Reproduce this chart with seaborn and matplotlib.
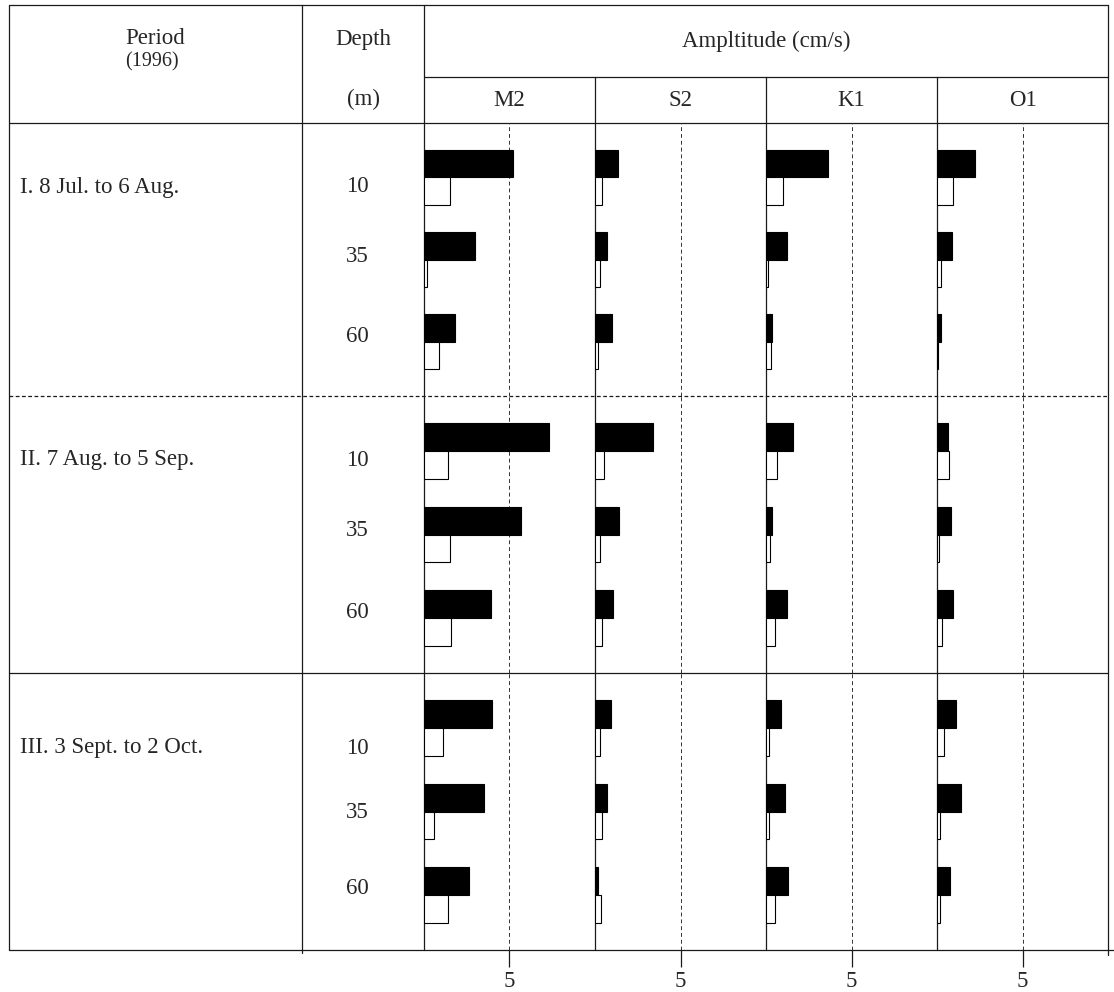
import numpy as np
import pandas as pd
import seaborn as sns
import matplotlib.pyplot as plt

# data (cm/s), black = major axis, white = minor axis
periods = ['I. 8 Jul. to 6 Aug.', 'II. 7 Aug. to 5 Sep.', 'III. 3 Sept. to 2 Oct.']
depths = ['10', '35', '60']
constituents = ['M2', 'S2', 'K1', 'O1']

m2_major = [[5.2, 3.0, 1.8], [7.3, 5.7, 3.9], [3.95, 3.5, 2.65]]
m2_minor = [[1.5, 0.2, 0.9], [1.4, 1.5, 1.6], [1.1, 0.6, 1.4]]
s2_major = [[1.35, 0.7, 1.0], [3.4, 1.4, 1.05], [0.95, 0.7, 0.2]]
s2_minor = [[0.4, 0.3, 0.2], [0.5, 0.3, 0.4], [0.3, 0.4, 0.35]]
k1_major = [[3.6, 1.2, 0.35], [1.6, 0.35, 1.2], [0.9, 1.1, 1.3]]
k1_minor = [[1.0, 0.1, 0.3], [0.65, 0.25, 0.55], [0.2, 0.2, 0.5]]
o1_major = [[2.2, 0.85, 0.25], [0.65, 0.8, 0.95], [1.1, 1.4, 0.75]]
o1_minor = [[0.95, 0.25, 0.05], [0.7, 0.1, 0.3], [0.4, 0.2, 0.2]]

majors = {'M2': m2_major, 'S2': s2_major, 'K1': k1_major, 'O1': o1_major}
minors = {'M2': m2_minor, 'S2': s2_minor, 'K1': k1_minor, 'O1': o1_minor}

rows = []
for c in constituents:
    for p in range(3):
        for d in range(3):
            rows.append([p, depths[d], c, 'major', majors[c][p][d]])
            rows.append([p, depths[d], c, 'minor', minors[c][p][d]])
df = pd.DataFrame(rows, columns=['period', 'depth', 'const', 'kind', 'amp'])

sns.set_theme(style='white')
plt.rcParams['font.family'] = ['Liberation Serif', 'DejaVu Serif']
FS = 16.5

W, H = 1114, 992
fig = plt.figure(figsize=(W / 100, H / 100), dpi=100)

# background axes in pixel coordinates for the table grid
bg = fig.add_axes([0, 0, 1, 1])
bg.set_xlim(0, W)
bg.set_ylim(H, 0)
bg.axis('off')

lc = '#1a1a1a'
def hline(y, x0, x1, **kw):
    bg.plot([x0, x1], [y, y], color=lc, lw=0.9, **kw)
def vline(x, y0, y1, **kw):
    bg.plot([x, x], [y0, y1], color=lc, lw=0.9, **kw)

col_x = [424, 595, 766, 937]
col_w = 171
row_top = [123, 396, 673]
row_bot = [396, 673, 950]

hline(5, 9, 1108)
hline(77, 424, 1108)
hline(123, 9, 1108)
hline(396, 9, 1108, ls=(0, (3, 2)))
hline(673, 9, 1108)
hline(950, 9, 302)
hline(950, 302, 1114)
vline(9, 5, 950)
vline(302, 5, 953)
vline(424, 5, 950)
for x in col_x[1:]:
    vline(x, 77, 950)
vline(1108, 5, 955)

# header texts
bg.text(155, 39, 'Period', ha='center', va='center', fontsize=FS)
bg.text(152, 62, '(1996)', ha='center', va='center', fontsize=FS - 2)
bg.text(363, 39, 'Depth', ha='center', va='center', fontsize=FS)
bg.text(363, 99, '(m)', ha='center', va='center', fontsize=FS)
bg.text(766, 41, 'Ampltitude (cm/s)', ha='center', va='center', fontsize=FS)
for x, c in zip(col_x, constituents):
    bg.text(x + col_w / 2, 100, c, ha='center', va='center', fontsize=FS)

period_y = [187, 460, 748]
depth_y = [[187, 257, 337], [460, 530, 612], [748, 813, 888]]
for p in range(3):
    bg.text(20, period_y[p], periods[p], ha='left', va='center', fontsize=FS)
    for d in range(3):
        bg.text(357, depth_y[p][d], depths[d], ha='center', va='center', fontsize=FS)

# bar panels
for p in range(3):
    for j, c in enumerate(constituents):
        x0 = col_x[j]
        ax = fig.add_axes([x0 / W, 1 - row_bot[p] / H, col_w / W, (row_bot[p] - row_top[p]) / H])
        ax.set_facecolor('none')
        sub = df[(df['period'] == p) & (df['const'] == c)]
        sns.barplot(data=sub, x='amp', y='depth', hue='kind', orient='h', order=depths,
                    hue_order=['major', 'minor'], palette={'major': 'black', 'minor': 'white'},
                    edgecolor='black', linewidth=0.8, width=0.67, legend=False, ax=ax)
        ax.axvline(5, color='#333333', ls=(0, (4, 3)), lw=0.7, zorder=0)
        ax.set_xlim(0, col_w / 17.1)
        ax.set_ylim(2.66, -0.66)
        ax.set_xlabel('')
        ax.set_ylabel('')
        for s in ax.spines.values():
            s.set_visible(False)
        ax.set_yticks([])
        if p == 2:
            ax.set_xticks([5])
            ax.set_xticklabels(['5'])
            ax.tick_params(axis='x', bottom=True, direction='out', length=12, width=0.9,
                           color=lc, labelsize=FS, pad=3)
        else:
            ax.set_xticks([])

fig.savefig('out.png', dpi=100)
